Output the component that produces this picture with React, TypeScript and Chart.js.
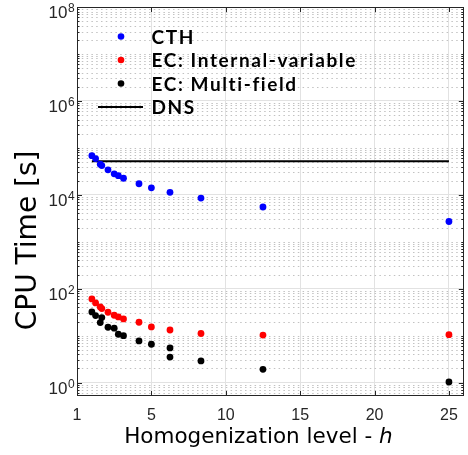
import React, { useEffect, useRef } from 'react';
import { Chart, registerables } from 'chart.js';

Chart.register(...registerables);

// ---- data ----
const hLevels = [1, 1.25, 1.5625, 1.6667, 2.0833, 2.5, 2.7778, 3.125, 4.1667, 5, 6.25, 8.3333, 12.5, 25];
const cthTime = [6.8e4, 5.9e4, 4.5e4, 4.2e4, 3.4e4, 2.8e4, 2.55e4, 2.25e4, 1.72e4, 1.41e4, 1.13e4, 8.5e3, 5.5e3, 2.7e3];
const ecInternalTime = [60.6, 49.8, 40.9, 37.8, 31.5, 27.2, 25.1, 22.7, 19.3, 15.3, 13.2, 11.1, 10.3, 10.5];
const ecMultiH = [1, 1.25, 1.5625, 1.6667, 2.0833, 2.5, 2.7778, 3.125, 4.1667, 5, 6.25, 6.25, 8.3333, 12.5, 25];
const ecMultiTime = [32, 26.8, 19, 24.3, 15.1, 14.4, 10.7, 10.0, 7.7, 6.56, 5.47, 3.5, 2.89, 1.92, 1.03];
const dnsH = [1, 25];
const dnsTime = [5.2e4, 5.2e4];
const xTickValues = [0, 5, 10, 15, 20, 25];
const xTickLabels = ['1', '5', '10', '15', '20', '25'];
const yTickExponents = [0, 2, 4, 6, 8];
const seriesLabels = ['CTH', 'EC: Internal-variable', 'EC: Multi-field', 'DNS'];
const xTitle = 'Homogenization level - ';
const xTitleItalic = 'h';
const yTitle = 'CPU Time [s]';

const pts = (xs: number[], ys: number[]) => xs.map((x, i) => ({ x, y: ys[i] }));

const AXIS = '#262626';
const SANS = '"Liberation Sans", Arial, sans-serif';
const TITLE = '"DejaVu Sans", sans-serif';

const decorPlugin = {
  id: 'decor',
  beforeDatasetsDraw(chart: any) {
    const { ctx, chartArea: a, scales } = chart;
    const y = scales.y;
    ctx.save();
    ctx.beginPath();
    ctx.rect(a.left, a.top, a.right - a.left, a.bottom - a.top);
    ctx.clip();
    ctx.strokeStyle = '#c2c2c2';
    ctx.lineWidth = 1;
    ctx.setLineDash([1.5, 3.3]);
    for (let d = -1; d < 8; d++) {
      for (let k = 1; k <= 9; k++) {
        if (k === 1 && d % 2 === 0) continue;
        const v = k * Math.pow(10, d);
        if (v < y.min || v > y.max) continue;
        const py = Math.round(y.getPixelForValue(v)) + 0.5;
        ctx.beginPath();
        ctx.moveTo(a.left, py);
        ctx.lineTo(a.right, py);
        ctx.stroke();
      }
    }
    ctx.restore();
  },
  afterDraw(chart: any) {
    const { ctx, chartArea: a, scales } = chart;
    const x = scales.x;
    const y = scales.y;
    ctx.save();
    // box
    ctx.strokeStyle = AXIS;
    ctx.lineWidth = 1;
    ctx.setLineDash([]);
    ctx.strokeRect(Math.round(a.left) + 0.5, Math.round(a.top) + 0.5, Math.round(a.right - a.left) - 1, Math.round(a.bottom - a.top) - 1);
    // y ticks (inside, left & right)
    ctx.beginPath();
    for (let d = -1; d < 8; d++) {
      for (let k = 1; k <= 9; k++) {
        const v = k * Math.pow(10, d);
        if (v < y.min || v > y.max) continue;
        const py = Math.round(y.getPixelForValue(v)) + 0.5;
        const len = k === 1 && d % 2 === 0 ? 5 : 2.5;
        ctx.moveTo(a.left, py);
        ctx.lineTo(a.left + len, py);
        ctx.moveTo(a.right, py);
        ctx.lineTo(a.right - len, py);
      }
    }
    // x ticks
    xTickValues.forEach((v) => {
      const px = Math.round(x.getPixelForValue(v)) + 0.5;
      ctx.moveTo(px, a.bottom);
      ctx.lineTo(px, a.bottom - 5);
      ctx.moveTo(px, a.top);
      ctx.lineTo(px, a.top + 5);
    });
    ctx.stroke();

    // y tick labels 10^n
    ctx.fillStyle = AXIS;
    yTickExponents.forEach((e) => {
      const py = y.getPixelForValue(Math.pow(10, e));
      ctx.font = `17px ${SANS}`;
      ctx.textAlign = 'right';
      ctx.textBaseline = 'alphabetic';
      ctx.fillText('10', a.left - 9.5, py + 11);
      ctx.font = `12px ${SANS}`;
      ctx.textAlign = 'left';
      ctx.fillText(String(e), a.left - 9, py + 5);
    });

    // x title
    ctx.fillStyle = '#000';
    ctx.textBaseline = 'alphabetic';
    ctx.font = `21.5px ${TITLE}`;
    const w1 = ctx.measureText(xTitle).width;
    ctx.font = `oblique 21.5px ${TITLE}`;
    const w2 = ctx.measureText(xTitleItalic).width;
    const cx = (a.left + a.right) / 2 - 12;
    const startX = cx - (w1 + w2) / 2;
    ctx.textAlign = 'left';
    ctx.font = `21.5px ${TITLE}`;
    ctx.fillText(xTitle, startX, 443);
    ctx.font = `oblique 21.5px ${TITLE}`;
    ctx.fillText(xTitleItalic, startX + w1, 443);

    // y title
    ctx.save();
    ctx.translate(36, a.top + (a.bottom - a.top) * 0.6);
    ctx.rotate(-Math.PI / 2);
    ctx.font = `28px ${TITLE}`;
    ctx.textAlign = 'center';
    ctx.fillText(yTitle, 0, 0);
    ctx.restore();

    // legend
    const ds = chart.data.datasets;
    const textX = a.left + 74.5;
    const markX = a.left + 44;
    let rowY = a.top + 29.5;
    ctx.font = `bold 19px Lato, ${SANS}`;
    (ctx as any).letterSpacing = '1.6px';
    ctx.textAlign = 'left';
    ctx.textBaseline = 'middle';
    ds.forEach((d: any) => {
      if (d.showLine) {
        ctx.strokeStyle = d.borderColor;
        ctx.lineWidth = d.borderWidth;
        ctx.beginPath();
        ctx.moveTo(a.left + 21, rowY);
        ctx.lineTo(a.left + 66, rowY);
        ctx.stroke();
      } else {
        ctx.fillStyle = d.backgroundColor;
        ctx.beginPath();
        ctx.arc(markX, rowY, 3.3, 0, Math.PI * 2);
        ctx.fill();
      }
      ctx.fillStyle = '#000';
      ctx.fillText(d.label, textX, rowY + 1);
      rowY += 23.5;
    });
    (ctx as any).letterSpacing = '0px';
    ctx.restore();
  },
};

export default function App() {
  const ref = useRef<HTMLCanvasElement | null>(null);
  useEffect(() => {
    if (!ref.current) return;
    const chart = new Chart(ref.current, {
      type: 'scatter',
      data: {
        datasets: [
          {
            label: seriesLabels[0],
            data: pts(hLevels, cthTime),
            backgroundColor: '#0000ff',
            borderColor: '#0000ff',
            pointRadius: 3.4,
            borderWidth: 0,
          },
          {
            label: seriesLabels[1],
            data: pts(hLevels, ecInternalTime),
            backgroundColor: '#ff0000',
            borderColor: '#ff0000',
            pointRadius: 3.4,
            borderWidth: 0,
          },
          {
            label: seriesLabels[2],
            data: pts(ecMultiH, ecMultiTime),
            backgroundColor: '#000000',
            borderColor: '#000000',
            pointRadius: 3.4,
            borderWidth: 0,
          },
          {
            label: seriesLabels[3],
            data: pts(dnsH, dnsTime),
            showLine: true,
            borderColor: '#000000',
            backgroundColor: '#000000',
            borderWidth: 2,
            pointRadius: 0,
          },
        ],
      } as any,
      options: {
        animation: false,
        responsive: false,
        maintainAspectRatio: false,
        devicePixelRatio: 1,
        layout: { padding: { top: 7, right: 2, left: 0, bottom: 0 } },
        plugins: { legend: { display: false }, tooltip: { enabled: false } },
        scales: {
          x: {
            type: 'linear',
            min: 0,
            max: 26,
            afterBuildTicks: (s: any) => {
              s.ticks = xTickValues.map((v) => ({ value: v }));
            },
            afterFit: (s: any) => {
              s.height = 59;
            },
            ticks: {
              autoSkip: false,
              maxRotation: 0,
              padding: 10,
              color: AXIS,
              font: { size: 16, family: SANS },
              callback: (v: any) => {
                const i = xTickValues.indexOf(Number(v));
                return i >= 0 ? xTickLabels[i] : '';
              },
            },
            grid: { color: '#e2e2e2', lineWidth: 1, drawTicks: false },
            border: { display: false },
          },
          y: {
            type: 'logarithmic',
            min: 0.518,
            max: 1e8,
            afterBuildTicks: (s: any) => {
              s.ticks = yTickExponents.map((e) => ({ value: Math.pow(10, e) }));
            },
            afterFit: (s: any) => {
              s.width = 77;
            },
            ticks: { display: false },
            grid: { color: '#e2e2e2', lineWidth: 1, drawTicks: false },
            border: { display: false },
          },
        },
      } as any,
      plugins: [decorPlugin],
    });
    return () => chart.destroy();
  }, []);
  return (
    <div style={{ position: 'fixed', left: 0, top: 0, width: 468, height: 455, background: '#fff' }}>
      <canvas ref={ref} width={468} height={455} style={{ display: 'block', width: 468, height: 455 }} />
    </div>
  );
}
